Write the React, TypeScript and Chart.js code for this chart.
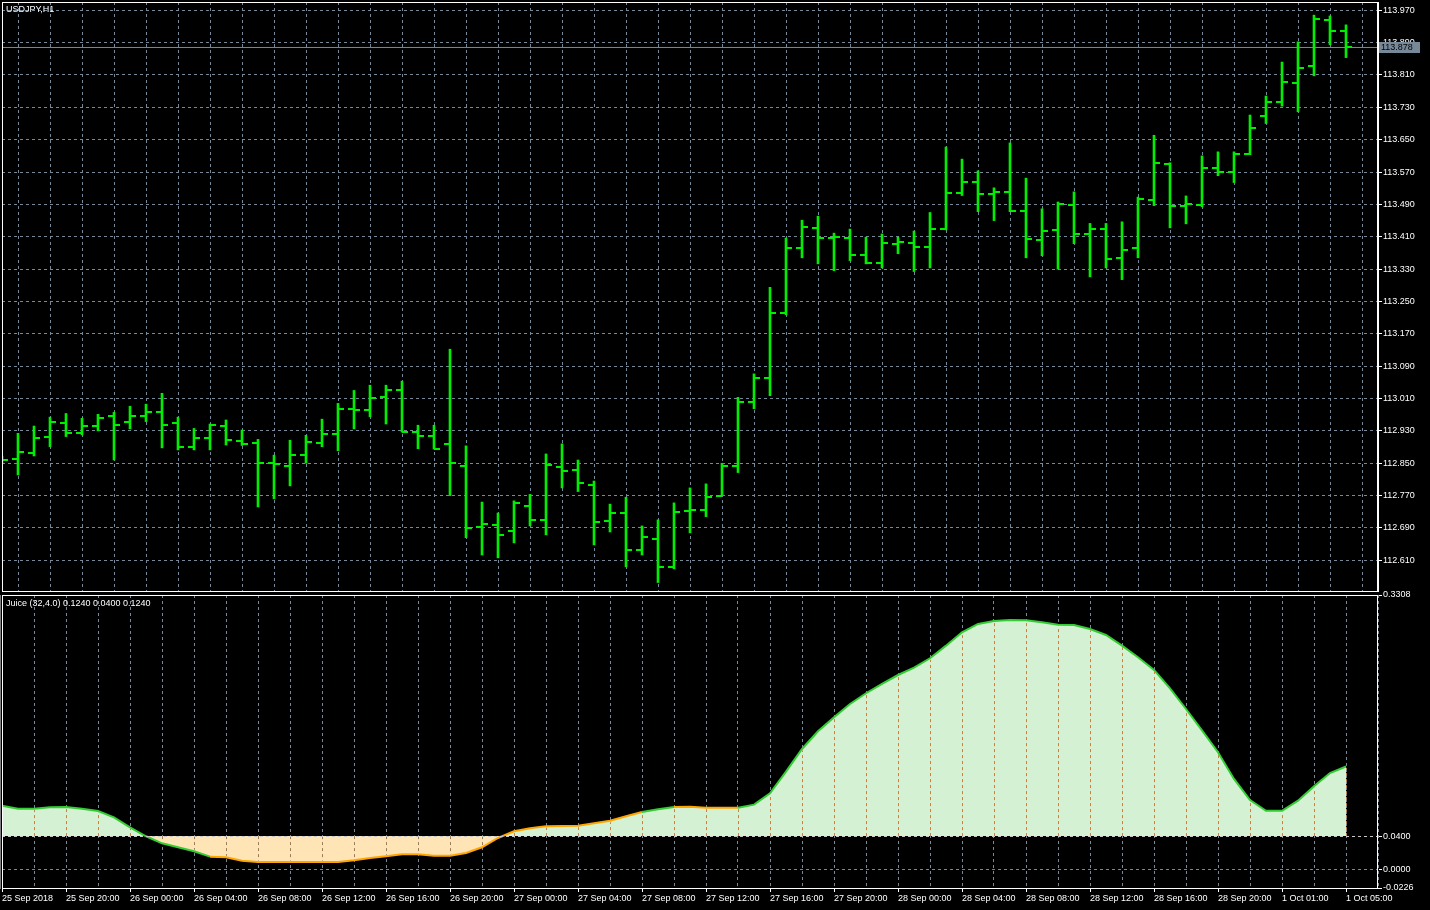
import React, { useEffect, useRef } from "react";
import { Chart, registerables } from "chart.js";

Chart.register(...registerables);

const symbolTitle = "USDJPY,H1";
const juiceParams = "Juice (32,4.0)";
const juiceLevel = 0.04;

const opens = [
  112.860, 112.861, 112.876, 112.916, 112.950, 112.925, 112.942, 112.967, 112.953, 112.967,
  112.977, 112.950, 112.890, 112.913, 112.943, 112.906, 112.901, 112.851, 112.844, 112.871,
  112.901, 112.923, 112.985, 112.982, 113.014, 113.032, 112.928, 112.918, 112.898, 112.844,
  112.693, 112.698, 112.683, 112.745, 112.710, 112.841, 112.833, 112.797, 112.708, 112.728,
  112.636, 112.663, 112.594, 112.733, 112.735, 112.770, 112.844, 113.002, 113.061, 113.222,
  113.381, 113.432, 113.407, 113.407, 113.366, 113.346, 113.393, 113.395, 113.385, 113.430,
  113.519, 113.546, 113.516, 113.521, 113.474, 113.403, 113.427, 113.489, 113.418, 113.430,
  113.358, 113.381, 113.502, 113.591, 113.487, 113.489, 113.581, 113.571, 113.615, 113.709,
  113.742, 113.789, 113.833, 113.947, 113.920,
];
const highs = [
  112.868, 112.924, 112.942, 112.964, 112.973, 112.961, 112.971, 112.976, 112.991, 112.996,
  113.023, 112.964, 112.936, 112.947, 112.957, 112.932, 112.909, 112.870, 112.907, 112.919,
  112.959, 112.998, 113.030, 113.043, 113.043, 113.053, 112.944, 112.944, 113.132, 112.893,
  112.754, 112.727, 112.757, 112.773, 112.873, 112.898, 112.858, 112.806, 112.749, 112.766,
  112.695, 112.710, 112.752, 112.789, 112.799, 112.850, 113.013, 113.071, 113.285, 113.407,
  113.451, 113.461, 113.419, 113.429, 113.409, 113.417, 113.409, 113.424, 113.470, 113.632,
  113.602, 113.573, 113.531, 113.642, 113.555, 113.479, 113.496, 113.521, 113.443, 113.443,
  113.447, 113.508, 113.661, 113.593, 113.511, 113.610, 113.620, 113.620, 113.711, 113.758,
  113.842, 113.892, 113.958, 113.956, 113.934,
];
const lows = [
  112.850, 112.821, 112.868, 112.891, 112.916, 112.920, 112.930, 112.858, 112.935, 112.953,
  112.888, 112.883, 112.883, 112.883, 112.895, 112.894, 112.742, 112.762, 112.794, 112.850,
  112.891, 112.881, 112.935, 112.965, 112.947, 112.927, 112.886, 112.885, 112.770, 112.666,
  112.623, 112.616, 112.653, 112.695, 112.673, 112.789, 112.780, 112.648, 112.680, 112.594,
  112.623, 112.555, 112.589, 112.678, 112.718, 112.770, 112.827, 112.985, 113.017, 113.217,
  113.358, 113.343, 113.326, 113.351, 113.343, 113.333, 113.368, 113.324, 113.333, 113.427,
  113.512, 113.472, 113.450, 113.472, 113.358, 113.363, 113.330, 113.393, 113.311, 113.333,
  113.304, 113.358, 113.487, 113.432, 113.442, 113.484, 113.561, 113.544, 113.613, 113.690,
  113.733, 113.719, 113.808, 113.885, 113.853,
];
const closes = [
  112.858, 112.878, 112.913, 112.953, 112.925, 112.942, 112.963, 112.944, 112.967, 112.977,
  112.944, 112.890, 112.913, 112.944, 112.908, 112.898, 112.851, 112.848, 112.871, 112.902,
  112.923, 112.985, 112.982, 113.012, 113.032, 112.928, 112.917, 112.886, 112.851, 112.691,
  112.700, 112.673, 112.752, 112.710, 112.846, 112.831, 112.802, 112.705, 112.728, 112.636,
  112.668, 112.594, 112.730, 112.735, 112.767, 112.844, 113.002, 113.061, 113.222, 113.381,
  113.435, 113.407, 113.410, 113.366, 113.346, 113.395, 113.398, 113.385, 113.430, 113.519,
  113.546, 113.516, 113.521, 113.474, 113.405, 113.425, 113.492, 113.418, 113.430, 113.356,
  113.378, 113.504, 113.593, 113.487, 113.492, 113.581, 113.571, 113.615, 113.680, 113.742,
  113.793, 113.828, 113.949, 113.920, 113.878,
];

const juice = [
  0.0767, 0.0731, 0.0731, 0.0747, 0.0751, 0.0731, 0.0703, 0.0627, 0.0506, 0.0398,
  0.0313, 0.0265, 0.0217, 0.0152, 0.0144, 0.0103, 0.0088, 0.0088, 0.0088, 0.0088,
  0.0088, 0.0088, 0.0108, 0.0136, 0.0156, 0.0180, 0.0180, 0.0164, 0.0164, 0.0196,
  0.0265, 0.0377, 0.0458, 0.0494, 0.0518, 0.0522, 0.0525, 0.0554, 0.0586, 0.0639,
  0.0691, 0.0723, 0.0751, 0.0755, 0.0743, 0.0743, 0.0743, 0.0779, 0.0916, 0.1177,
  0.1451, 0.1664, 0.1833, 0.1993, 0.2123, 0.2235, 0.2343, 0.2431, 0.2545, 0.2697,
  0.2858, 0.2959, 0.2995, 0.3007, 0.3003, 0.2979, 0.2950, 0.2946, 0.2898, 0.2826,
  0.2697, 0.2557, 0.2404, 0.2183, 0.1933, 0.1676, 0.1411, 0.1089, 0.0835, 0.0706,
  0.0706, 0.0827, 0.1001, 0.1161, 0.1240,
];
// 1 = green segment, 0 = orange segment (segment starting at that bar)
const juiceUp = [
  1, 1, 1, 1, 1, 1, 1, 1, 1, 1,
  1, 1, 1, 0, 0, 0, 0, 0, 0, 0,
  0, 0, 0, 0, 0, 0, 0, 0, 0, 0,
  0, 0, 0, 0, 0, 0, 0, 0, 0, 0,
  1, 1, 0, 0, 0, 0, 1, 1, 1, 1,
  1, 1, 1, 1, 1, 1, 1, 1, 1, 1,
  1, 1, 1, 1, 1, 1, 1, 1, 1, 1,
  1, 1, 1, 1, 1, 1, 1, 1, 1, 1,
  1, 1, 1, 1, 1,
];

const timeLabels = [
  "25 Sep 2018", "25 Sep 20:00", "26 Sep 00:00", "26 Sep 04:00", "26 Sep 08:00",
  "26 Sep 12:00", "26 Sep 16:00", "26 Sep 20:00", "27 Sep 00:00", "27 Sep 04:00",
  "27 Sep 08:00", "27 Sep 12:00", "27 Sep 16:00", "27 Sep 20:00", "28 Sep 00:00",
  "28 Sep 04:00", "28 Sep 08:00", "28 Sep 12:00", "28 Sep 16:00", "28 Sep 20:00",
  "1 Oct 01:00", "1 Oct 05:00",
];
const priceTicks = [
  112.61, 112.69, 112.77, 112.85, 112.93, 113.01, 113.09, 113.17, 113.25,
  113.33, 113.41, 113.49, 113.57, 113.65, 113.73, 113.81, 113.89, 113.97,
];
const juiceTicks = [-0.0226, 0, 0.04, 0.3308];

const priceMin = 112.5341;
const priceMax = 113.9905;
const juiceMin = -0.0226;
const juiceMax = 0.3308;
const xMin = 0;
const xMax = 86;

const FONT = { family: '"Liberation Sans", Arial, sans-serif', size: 9 };
const GRID = "#778899";
const BAR = "#00ee00";
const LINE_GREEN = "#32cd32";
const LINE_ORANGE = "#ffa500";
const FILL_GREEN = "#d4f1d4";
const FILL_ORANGE = "#ffe4b5";

function makeTick(side: "open" | "close") {
  const c = document.createElement("canvas");
  c.width = 14;
  c.height = 2;
  const g = c.getContext("2d")!;
  g.fillStyle = BAR;
  if (side === "open") g.fillRect(1, 0, 6, 2);
  else g.fillRect(7, 0, 6, 2);
  return c;
}

const gridIdx: number[] = [];
for (let v = xMin; v <= xMax; v += 2) gridIdx.push(v);

export default function App() {
  const topRef = useRef<HTMLCanvasElement>(null);
  const botRef = useRef<HTMLCanvasElement>(null);

  useEffect(() => {
    const last = closes.length - 1;
    const openImg = makeTick("open");
    const closeImg = makeTick("close");

    const framePlugin = {
      id: "frame",
      afterDraw(chart: any) {
        const { ctx, chartArea: a } = chart;
        ctx.save();
        ctx.strokeStyle = "#ffffff";
        ctx.lineWidth = 1;
        ctx.setLineDash([]);
        ctx.strokeRect(a.left + 0.5, a.top + 0.5, a.right - a.left - 1, a.bottom - a.top);
        ctx.restore();
      },
    };

    const priceBoxPlugin = {
      id: "priceBox",
      afterDraw(chart: any) {
        const { ctx, scales } = chart;
        const y = scales.y.getPixelForValue(closes[last]);
        ctx.save();
        ctx.fillStyle = GRID;
        ctx.fillRect(1379, Math.round(y) - 5, 41, 11);
        ctx.fillStyle = "#000000";
        ctx.font = '9px "Liberation Sans", Arial, sans-serif';
        ctx.textBaseline = "middle";
        ctx.textAlign = "left";
        ctx.fillText(closes[last].toFixed(3), 1381, Math.round(y) + 0.5);
        ctx.restore();
      },
    };

    const top = new Chart(topRef.current!, {
      type: "bar",
      data: {
        datasets: [
          {
            type: "bar",
            data: lows.map((l, i) => ({ x: i, y: [l, highs[i]] })),
            backgroundColor: BAR,
            borderWidth: 0,
            barThickness: 2,
            order: 1,
          } as any,
          {
            type: "line",
            data: opens.map((v, i) => ({ x: i, y: v })),
            showLine: false,
            pointStyle: openImg,
            pointRadius: 3,
            order: 0,
          } as any,
          {
            type: "line",
            data: closes.map((v, i) => ({ x: i, y: v })),
            showLine: false,
            pointStyle: closeImg,
            pointRadius: 3,
            order: 0,
          } as any,
          {
            type: "line",
            data: [
              { x: xMin, y: closes[last] },
              { x: xMax, y: closes[last] },
            ],
            borderColor: GRID,
            borderWidth: 1,
            pointRadius: 0,
            order: 5,
          } as any,
        ],
      },
      options: {
        animation: false,
        responsive: false,
        devicePixelRatio: 1,
        events: [],
        layout: { autoPadding: false, padding: { left: 2, top: 2, right: 0, bottom: 2 } },
        plugins: { legend: { display: false }, tooltip: { enabled: false }, title: { display: false } },
        scales: {
          x: {
            type: "linear",
            min: xMin,
            max: xMax,
            offset: false,
            afterBuildTicks: (s: any) => {
              s.ticks = gridIdx.map((v) => ({ value: v }));
            },
            afterFit: (s: any) => {
              s.height = 0;
              s.paddingLeft = 0;
              s.paddingRight = 0;
            },
            ticks: { display: false },
            grid: { color: GRID, drawTicks: false, lineWidth: 1 },
            border: { display: false, dash: [3, 3] },
          },
          y: {
            type: "linear",
            position: "right",
            min: priceMin,
            max: priceMax,
            beginAtZero: false,
            afterBuildTicks: (s: any) => {
              s.ticks = priceTicks.map((v) => ({ value: v }));
            },
            afterFit: (s: any) => {
              s.width = 52;
              s.paddingTop = 0;
              s.paddingBottom = 0;
            },
            ticks: {
              color: "#ffffff",
              font: FONT,
              padding: 1,
              callback: (v: any) => Number(v).toFixed(3),
            },
            grid: { color: GRID, tickColor: "#ffffff", tickLength: 4, tickBorderDash: [], lineWidth: 1 },
            border: { color: "#ffffff", dash: [3, 3] },
          },
        },
      } as any,
      plugins: [framePlugin, priceBoxPlugin],
    });

    const dashPlugin = {
      id: "fillDashes",
      afterDatasetsDraw(chart: any) {
        const { ctx, scales, chartArea: a } = chart;
        const y0 = scales.y.getPixelForValue(juiceLevel);
        ctx.save();
        ctx.beginPath();
        ctx.rect(a.left, a.top, a.right - a.left, a.bottom - a.top);
        ctx.clip();
        ctx.lineWidth = 1;
        ctx.setLineDash([3, 3]);
        for (let i = 2; i < juice.length; i += 2) {
          const px = Math.round(scales.x.getPixelForValue(i)) + 0.5;
          const py = scales.y.getPixelForValue(juice[i]);
          const up = juice[i] >= juiceLevel;
          ctx.strokeStyle = up ? "#c8803f" : "#9c7b58";
          ctx.beginPath();
          ctx.moveTo(px, y0);
          ctx.lineTo(px, up ? py + 1.5 : py - 1.5);
          ctx.stroke();
        }
        ctx.restore();
      },
    };

    const bot = new Chart(botRef.current!, {
      type: "line",
      data: {
        datasets: [
          {
            data: juice.map((v, i) => ({ x: i, y: v })),
            borderWidth: 2,
            borderColor: LINE_GREEN,
            pointRadius: 0,
            tension: 0,
            segment: {
              borderColor: (c: any) => (juiceUp[c.p0DataIndex] ? LINE_GREEN : LINE_ORANGE),
            },
            fill: { target: { value: juiceLevel }, above: FILL_GREEN, below: FILL_ORANGE },
          } as any,
        ],
      },
      options: {
        animation: false,
        responsive: false,
        devicePixelRatio: 1,
        events: [],
        layout: { autoPadding: false, padding: { left: 2, top: 15, right: 0, bottom: 0 } },
        plugins: { legend: { display: false }, tooltip: { enabled: false }, title: { display: false } },
        scales: {
          x: {
            type: "linear",
            min: xMin,
            max: xMax,
            offset: false,
            afterBuildTicks: (s: any) => {
              s.ticks = gridIdx.map((v) => ({ value: v }));
            },
            afterFit: (s: any) => {
              s.height = 22;
              s.paddingLeft = 0;
              s.paddingRight = 0;
            },
            ticks: {
              autoSkip: false,
              maxRotation: 0,
              minRotation: 0,
              align: "start",
              padding: 1,
              color: "#ffffff",
              font: FONT,
              callback: (v: any) => {
                const n = Number(v);
                return n % 4 === 0 && timeLabels[n / 4] ? timeLabels[n / 4] : "";
              },
            },
            grid: {
              color: GRID,
              lineWidth: 1,
              tickLength: 4,
              tickBorderDash: [],
              tickColor: (c: any) =>
                c.tick && c.tick.value % 4 === 0 && timeLabels[c.tick.value / 4] ? "#ffffff" : "rgba(0,0,0,0)",
            },
            border: { color: "#ffffff", dash: [3, 3] },
          },
          y: {
            type: "linear",
            position: "right",
            min: juiceMin,
            max: juiceMax,
            afterBuildTicks: (s: any) => {
              s.ticks = juiceTicks.map((v) => ({ value: v }));
            },
            afterFit: (s: any) => {
              s.width = 52;
              s.paddingTop = 0;
              s.paddingBottom = 0;
            },
            ticks: {
              color: "#ffffff",
              font: FONT,
              padding: 1,
              callback: (v: any) => Number(v).toFixed(4),
            },
            grid: {
              z: 1,
              lineWidth: 1,
              color: (c: any) => {
                if (!c.tick) return "rgba(0,0,0,0)";
                if (c.tick.value === juiceLevel) return "#c8c8c8";
                if (c.tick.value === 0) return GRID;
                return "rgba(0,0,0,0)";
              },
              tickColor: "#ffffff",
              tickLength: 4,
              tickBorderDash: [],
            },
            border: { color: "#ffffff", dash: [3, 3] },
          },
        },
      } as any,
      plugins: [dashPlugin, framePlugin],
    });

    return () => {
      top.destroy();
      bot.destroy();
    };
  }, []);

  const last = juice.length - 1;
  const juiceTitle = `${juiceParams} ${juice[last].toFixed(4)} ${juiceLevel.toFixed(4)} ${juice[last].toFixed(4)}`;
  const textStyle: React.CSSProperties = {
    position: "absolute",
    left: 6,
    color: "#ffffff",
    font: '9px "Liberation Sans", Arial, sans-serif',
    lineHeight: "11px",
    whiteSpace: "pre",
    pointerEvents: "none",
  };

  return (
    <div
      style={{
        position: "fixed",
        left: 0,
        top: 0,
        width: 1430,
        height: 910,
        background: "#000000",
        overflow: "hidden",
      }}
    >
      <canvas
        ref={topRef}
        width={1430}
        height={593}
        style={{ position: "absolute", left: 0, top: 0, width: 1430, height: 593 }}
      />
      <canvas
        ref={botRef}
        width={1430}
        height={330}
        style={{ position: "absolute", left: 0, top: 580, width: 1430, height: 330 }}
      />
      <div style={{ ...textStyle, top: 4 }}>{symbolTitle}</div>
      <div style={{ ...textStyle, top: 598 }}>{juiceTitle}</div>
    </div>
  );
}
